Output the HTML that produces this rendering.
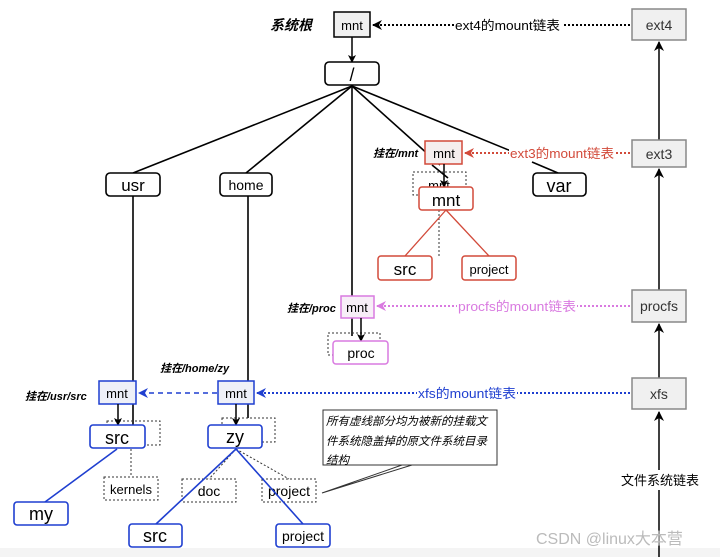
<!DOCTYPE html>
<html><head><meta charset="utf-8"><style>
body{margin:0;background:#fff}
svg{display:block}
text{font-family:"Liberation Sans","Noto Sans CJK SC",sans-serif}
.it{font-style:italic;font-weight:bold;font-size:11px}
</style></head><body>
<svg width="720" height="557" viewBox="0 0 720 557" xmlns="http://www.w3.org/2000/svg">
<defs>
<marker id="ak" markerWidth="8" markerHeight="8" refX="7" refY="4" orient="auto" markerUnits="userSpaceOnUse"><path d="M0,0 L8,4 L0,8 L2,4z" fill="#000"/></marker>
<marker id="ar" markerWidth="10" markerHeight="10" refX="9" refY="5" orient="auto" markerUnits="userSpaceOnUse"><path d="M0,0 L10,5 L0,10 L3,5z" fill="#d24a3a"/></marker>
<marker id="ap" markerWidth="10" markerHeight="10" refX="9" refY="5" orient="auto" markerUnits="userSpaceOnUse"><path d="M0,0 L10,5 L0,10 L3,5z" fill="#d97ae0"/></marker>
<marker id="ab" markerWidth="10" markerHeight="10" refX="9" refY="5" orient="auto" markerUnits="userSpaceOnUse"><path d="M0,0 L10,5 L0,10 L3,5z" fill="#1f3fd0"/></marker>
<marker id="ak2" markerWidth="10" markerHeight="10" refX="9" refY="5" orient="auto" markerUnits="userSpaceOnUse"><path d="M0,0 L10,5 L0,10 L3,5z" fill="#000"/></marker>
</defs>
<rect x="0" y="548" width="720" height="9" fill="#f4f4f4"/>
<g stroke="#000" stroke-width="1.6" fill="none">
<line x1="352" y1="86" x2="133" y2="173"/>
<line x1="352" y1="86" x2="246" y2="173"/>
<line x1="352" y1="86" x2="352" y2="336"/>
<line x1="352" y1="86" x2="440" y2="165"/>
<line x1="352" y1="86" x2="533" y2="160"/>
<line x1="532" y1="162" x2="558" y2="173"/>
<line x1="432" y1="165" x2="448" y2="178"/>
<line x1="133" y1="196" x2="133" y2="425"/>
<line x1="248" y1="196" x2="248" y2="418"/>
</g>
<g stroke="#000" stroke-width="1.5">
<line x1="659" y1="557" x2="659" y2="412" marker-end="url(#ak2)"/>
<line x1="659" y1="378" x2="659" y2="324" marker-end="url(#ak2)"/>
<line x1="659" y1="290" x2="659" y2="169" marker-end="url(#ak2)"/>
<line x1="659" y1="140" x2="659" y2="42" marker-end="url(#ak2)"/>
</g>
<rect x="615" y="470" width="90" height="20" fill="#fff"/>
<text x="660" y="485" font-size="13" text-anchor="middle">文件系统链表</text>
<g fill="#f0f0f0" stroke="#888" stroke-width="1.5">
<rect x="632" y="9" width="54" height="31"/>
<rect x="632" y="140" width="54" height="27"/>
<rect x="632" y="290" width="54" height="32"/>
<rect x="632" y="378" width="54" height="31"/>
</g>
<g font-size="14" text-anchor="middle" fill="#333">
<text x="659" y="30">ext4</text><text x="659" y="159">ext3</text>
<text x="659" y="311">procfs</text><text x="659" y="399">xfs</text>
</g>
<text x="270" y="30" font-size="14" font-style="italic" font-weight="bold">系统根</text>
<rect x="334" y="12" width="36" height="25" fill="#f0f0f0" stroke="#000" stroke-width="1.5"/>
<text x="352" y="30" font-size="13" text-anchor="middle">mnt</text>
<line x1="352" y1="37" x2="352" y2="62" stroke="#000" stroke-width="1.5" marker-end="url(#ak)"/>
<line x1="630" y1="25" x2="373" y2="25" stroke="#000" stroke-width="2" stroke-dasharray="2,2" marker-end="url(#ak2)"/>
<rect x="454" y="17" width="108" height="16" fill="#fff"/>
<text x="455" y="30" font-size="13" textLength="105" lengthAdjust="spacingAndGlyphs">ext4的mount链表</text>
<g fill="#fff" stroke="#000" stroke-width="1.6">
<rect x="325" y="62" width="54" height="23" rx="4"/>
<rect x="106" y="173" width="54" height="23" rx="4"/>
<rect x="220" y="173" width="52" height="23" rx="4"/>
<rect x="533" y="173" width="53" height="23" rx="4"/>
</g>
<text x="352" y="81" font-size="18" text-anchor="middle">/</text>
<text x="133" y="191" font-size="17" text-anchor="middle">usr</text>
<text x="246" y="190" font-size="14" text-anchor="middle">home</text>
<text x="559" y="192" font-size="18" text-anchor="middle">var</text>
<rect x="413" y="172" width="53" height="23" fill="none" stroke="#333" stroke-dasharray="2,2"/>
<text x="439" y="190" font-size="13" text-anchor="middle">mnt</text>
<line x1="439" y1="210" x2="439" y2="257" stroke="#333" stroke-dasharray="2,2"/>
<text x="373" y="157" class="it">挂在/mnt</text>
<rect x="425" y="141" width="37" height="23" fill="#f5eeee" stroke="#d24a3a" stroke-width="1.5"/>
<text x="444" y="158" font-size="13" text-anchor="middle">mnt</text>
<line x1="444" y1="164" x2="444" y2="187" stroke="#000" stroke-width="1.5" marker-end="url(#ak)"/>
<line x1="630" y1="153" x2="465" y2="153" stroke="#d24a3a" stroke-width="2" stroke-dasharray="2,2" marker-end="url(#ar)"/>
<rect x="509" y="145" width="107" height="16" fill="#fff"/>
<text x="510" y="158" font-size="13" fill="#d24a3a" textLength="104" lengthAdjust="spacingAndGlyphs">ext3的mount链表</text>
<rect x="419" y="187" width="54" height="23" rx="3" fill="#fff" stroke="#d24a3a" stroke-width="1.5"/>
<text x="446" y="206" font-size="17" text-anchor="middle">mnt</text>
<g stroke="#d24a3a" stroke-width="1.3"><line x1="446" y1="210" x2="405" y2="256"/><line x1="446" y1="210" x2="489" y2="256"/></g>
<rect x="378" y="256" width="54" height="24" rx="3" fill="#fff" stroke="#d24a3a" stroke-width="1.5"/>
<rect x="462" y="256" width="54" height="24" rx="3" fill="#fff" stroke="#d24a3a" stroke-width="1.5"/>
<text x="405" y="275" font-size="17" text-anchor="middle">src</text>
<text x="489" y="274" font-size="13" text-anchor="middle">project</text>
<text x="287" y="312" class="it">挂在/proc</text>
<rect x="328" y="333" width="52" height="22" fill="none" stroke="#333" stroke-dasharray="2,2"/>
<rect x="341" y="296" width="33" height="22" fill="#f7eef7" stroke="#d97ae0" stroke-width="1.5"/>
<text x="357" y="312" font-size="13" text-anchor="middle">mnt</text>
<line x1="361" y1="318" x2="361" y2="341" stroke="#000" stroke-width="1.5" marker-end="url(#ak)"/>
<line x1="630" y1="306" x2="377" y2="306" stroke="#d97ae0" stroke-width="2" stroke-dasharray="2,2" marker-end="url(#ap)"/>
<rect x="457" y="298" width="120" height="16" fill="#fff"/>
<text x="458" y="311" font-size="13" fill="#d97ae0" textLength="118" lengthAdjust="spacingAndGlyphs">procfs的mount链表</text>
<rect x="333" y="341" width="55" height="23" rx="3" fill="#fff" stroke="#d97ae0" stroke-width="1.5"/>
<text x="361" y="358" font-size="14" text-anchor="middle">proc</text>
<text x="25" y="400" class="it">挂在/usr/src</text>
<text x="160" y="372" class="it">挂在/home/zy</text>
<rect x="107" y="421" width="53" height="24" fill="none" stroke="#333" stroke-dasharray="2,2"/>
<rect x="222" y="418" width="53" height="24" fill="none" stroke="#333" stroke-dasharray="2,2"/>
<rect x="99" y="381" width="37" height="23" fill="#eef0f8" stroke="#1f3fd0" stroke-width="1.5"/>
<rect x="218" y="381" width="36" height="23" fill="#eef0f8" stroke="#1f3fd0" stroke-width="1.5"/>
<text x="117" y="398" font-size="13" text-anchor="middle">mnt</text>
<text x="236" y="398" font-size="13" text-anchor="middle">mnt</text>
<line x1="217" y1="393" x2="139" y2="393" stroke="#1f3fd0" stroke-width="1.6" stroke-dasharray="5,4" marker-end="url(#ab)"/>
<line x1="630" y1="393" x2="257" y2="393" stroke="#1f3fd0" stroke-width="2" stroke-dasharray="2,2" marker-end="url(#ab)"/>
<rect x="417" y="385" width="100" height="16" fill="#fff"/>
<text x="418" y="398" font-size="13" fill="#1f3fd0" textLength="98" lengthAdjust="spacingAndGlyphs">xfs的mount链表</text>
<line x1="118" y1="404" x2="118" y2="425" stroke="#000" stroke-width="1.5" marker-end="url(#ak)"/>
<line x1="236" y1="404" x2="236" y2="425" stroke="#000" stroke-width="1.5" marker-end="url(#ak)"/>
<g stroke="#333" stroke-dasharray="2,2" fill="none">
<line x1="131" y1="449" x2="131" y2="477"/>
<line x1="236" y1="449" x2="209" y2="479"/>
<line x1="236" y1="449" x2="289" y2="479"/>
<rect x="104" y="477" width="54" height="23"/>
<rect x="182" y="479" width="54" height="23"/>
<rect x="262" y="479" width="54" height="23"/>
</g>
<text x="131" y="494" font-size="13" text-anchor="middle">kernels</text>
<text x="209" y="496" font-size="14" text-anchor="middle">doc</text>
<text x="289" y="496" font-size="14" text-anchor="middle">project</text>
<g stroke="#1f3fd0" stroke-width="1.6">
<line x1="117" y1="449" x2="45" y2="502"/>
<line x1="236" y1="449" x2="156" y2="524"/>
<line x1="236" y1="449" x2="303" y2="524"/>
</g>
<g fill="#fff" stroke="#1f3fd0" stroke-width="1.6">
<rect x="90" y="425" width="55" height="23" rx="3"/>
<rect x="208" y="425" width="54" height="23" rx="3"/>
<rect x="14" y="502" width="54" height="23" rx="3"/>
<rect x="129" y="524" width="53" height="23" rx="3"/>
<rect x="276" y="524" width="54" height="23" rx="3"/>
</g>
<text x="117" y="444" font-size="18" text-anchor="middle">src</text>
<text x="235" y="443" font-size="18" text-anchor="middle">zy</text>
<text x="41" y="520" font-size="18" text-anchor="middle">my</text>
<text x="155" y="542" font-size="18" text-anchor="middle">src</text>
<text x="303" y="541" font-size="14" text-anchor="middle">project</text>
<path d="M322,493 L402,465 M322,493 L412,465" stroke="#333" fill="none"/>
<rect x="323" y="410" width="174" height="55" fill="#fff" stroke="#333"/>
<g font-size="11.5" font-style="italic">
<text x="326" y="425">所有虚线部分均为被新的挂载文</text>
<text x="326" y="445">件系统隐盖掉的原文件系统目录</text>
<text x="326" y="464">结构</text>
</g>
<text x="536" y="544" font-size="16" fill="#bbb">CSDN @linux大本营</text>
</svg>
</body></html>
